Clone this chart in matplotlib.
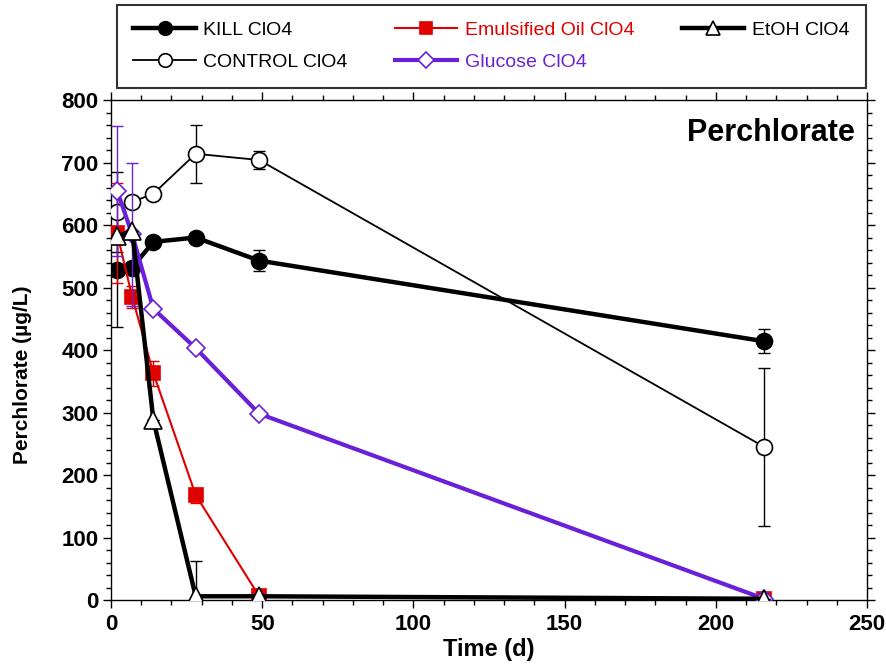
import numpy as np
import matplotlib
matplotlib.use("Agg")
import matplotlib.pyplot as plt
from matplotlib.ticker import MultipleLocator

plt.rcParams['font.family'] = ['Liberation Sans', 'DejaVu Sans']

# Sampling times (d)
t = [2, 7, 14, 28, 49, 216]

# Perchlorate (ug/L) per treatment, with error bars
kill = [528, 532, 573, 580, 543, 414]
kill_err = [91, 4, 4, 4, 17, 19]
control = [621, 637, 650, 714, 704, 245]
control_err = [64, 6, 6, 46, 14, 126]
emulsified = [587, 485, 363, 168, 6, 2]
emulsified_err = [80, 17, 20, 12, 0, 0]
glucose = [655, 585, 466, 403, 298, 2]
glucose_err = [104, 115, 4, 4, 4, 0]
etoh = [582, 590, 288, 6, 6, 2]
etoh_err = [0, 0, 0, 57, 0, 0]

red = '#E00000'
purple = '#6A1FD8'

fig = plt.figure(figsize=(8.86, 6.69), dpi=100)
ax = fig.add_axes([0.1253, 0.1031, 0.8533, 0.7474])

def series(y, err, color, lw, marker, ms, face, label, z):
    ax.errorbar(t, y, yerr=err, fmt='none', ecolor=color, elinewidth=1.0,
                capsize=4, capthick=1.0, zorder=z)
    line, = ax.plot(t, y, color=color, lw=lw, marker=marker, ms=ms,
                    mfc=face, mec=color, mew=1.2, label=label, zorder=z + 0.5)
    return line

h_kill = series(kill, kill_err, 'black', 3.2, 'o', 11.5, 'black', 'KILL ClO4', 2)
h_ctrl = series(control, control_err, 'black', 1.3, 'o', 11.5, 'white', 'CONTROL ClO4', 3)
h_emul = series(emulsified, emulsified_err, red, 1.5, 's', 10.5, red, 'Emulsified Oil ClO4', 4)
h_gluc = series(glucose, glucose_err, purple, 3.0, 'D', 9.5, 'white', 'Glucose ClO4', 5)
h_etoh = series(etoh, etoh_err, 'black', 3.2, '^', 12.5, 'white', 'EtOH ClO4', 6)

ax.set_xlim(0, 250)
ax.set_ylim(0, 800)
ax.xaxis.set_major_locator(MultipleLocator(50))
ax.xaxis.set_minor_locator(MultipleLocator(10))
ax.yaxis.set_major_locator(MultipleLocator(100))
ax.yaxis.set_minor_locator(MultipleLocator(20))
ax.tick_params(which='both', direction='out', top=True, right=True, width=1)
ax.tick_params(which='major', length=6, labelsize=16)
ax.tick_params(which='minor', length=3.5)
ax.tick_params(axis='x', pad=4)
ax.tick_params(axis='y', pad=3)
for lab in ax.get_xticklabels() + ax.get_yticklabels():
    lab.set_fontweight('bold')
for sp in ax.spines.values():
    sp.set_linewidth(1.0)

ax.set_xlabel('Time (d)', fontsize=17, fontweight='bold', labelpad=2)
ax.set_ylabel('Perchlorate (µg/L)', fontsize=15, fontweight='bold')
ax.yaxis.set_label_coords(-0.104, 0.45)
ax.text(0.984, 0.965, 'Perchlorate', transform=ax.transAxes, ha='right', va='top',
        fontsize=22, fontweight='bold')

handles = [h_kill, h_ctrl, h_emul, h_gluc, h_etoh]
leg = fig.legend(handles=handles, loc='upper left', ncol=3,
                 bbox_to_anchor=(0.132, 0.877, 0.845, 0.116), mode='expand',
                 fontsize=14, frameon=True, fancybox=False, edgecolor='black',
                 handlelength=3.2, markerscale=0.85, columnspacing=1.0,
                 labelspacing=0.75, borderaxespad=0.0, handletextpad=0.4,
                 borderpad=0.85)
leg.get_frame().set_linewidth(1.5)
for txt, col in zip(leg.get_texts(), ['black', 'black', red, purple, 'black']):
    txt.set_color(col)

fig.savefig('out.png', dpi=100)
